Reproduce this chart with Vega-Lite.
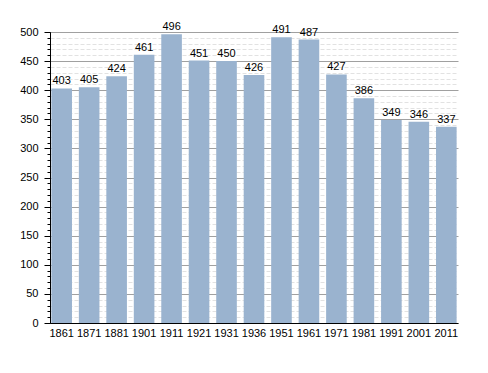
{
  "$schema": "https://vega.github.io/schema/vega-lite/v6.json",
  "autosize": {"type": "none"},
  "padding": {"left": 50, "top": 32, "right": 30, "bottom": 50},
  "width": 408,
  "height": 291,
  "background": "white",
  "config": {"view": {"stroke": null}, "font": "Liberation Sans"},
  "data": {"values": [
    {"year": "1861", "pop": 403}, {"year": "1871", "pop": 405}, {"year": "1881", "pop": 424},
    {"year": "1901", "pop": 461}, {"year": "1911", "pop": 496}, {"year": "1921", "pop": 451},
    {"year": "1931", "pop": 450}, {"year": "1936", "pop": 426}, {"year": "1951", "pop": 491},
    {"year": "1961", "pop": 487}, {"year": "1971", "pop": 427}, {"year": "1981", "pop": 386},
    {"year": "1991", "pop": 349}, {"year": "2001", "pop": 346}, {"year": "2011", "pop": 337}
  ]},
  "encoding": {
    "x": {"field": "year", "type": "ordinal", "sort": null,
      "scale": {"paddingInner": 0.25, "paddingOuter": 0.05},
      "axis": {"title": null, "labelAngle": 0, "ticks": false, "domainColor": "black", "labelColor": "black", "labelFontSize": 11, "labelPadding": 4, "grid": false}}
  },
  "layer": [
    {
      "mark": {"type": "bar", "color": "#9ab3cf"},
      "encoding": {
        "y": {"field": "pop", "type": "quantitative", "scale": {"domain": [0, 500], "nice": false},
          "axis": {"title": null, "orient": "left", "values": [0,10,20,30,40,50,60,70,80,90,100,110,120,130,140,150,160,170,180,190,200,210,220,230,240,250,260,270,280,290,300,310,320,330,340,350,360,370,380,390,400,410,420,430,440,450,460,470,480,490,500],
            "labels": false, "domain": false, "tickSize": 3, "tickColor": "black", "grid": true, "gridColor": "#e2e2e2", "gridDash": [4, 2], "zindex": 0}}
      }
    },
    {
      "mark": {"type": "text", "dy": -7, "fontSize": 11, "color": "black"},
      "encoding": {
        "y": {"field": "pop", "type": "quantitative", "scale": {"domain": [0, 500], "nice": false},
          "axis": {"title": null, "orient": "left", "values": [0,50,100,150,200,250,300,350,400,450,500], "domainColor": "black", "tickColor": "black", "tickSize": 6, "labelColor": "black", "labelFontSize": 11, "labelPadding": 6, "grid": true, "gridColor": "#a0a0a0", "zindex": 0}},
        "text": {"field": "pop", "type": "quantitative"}
      }
    }
  ],
  "resolve": {"axis": {"y": "independent"}}
}
